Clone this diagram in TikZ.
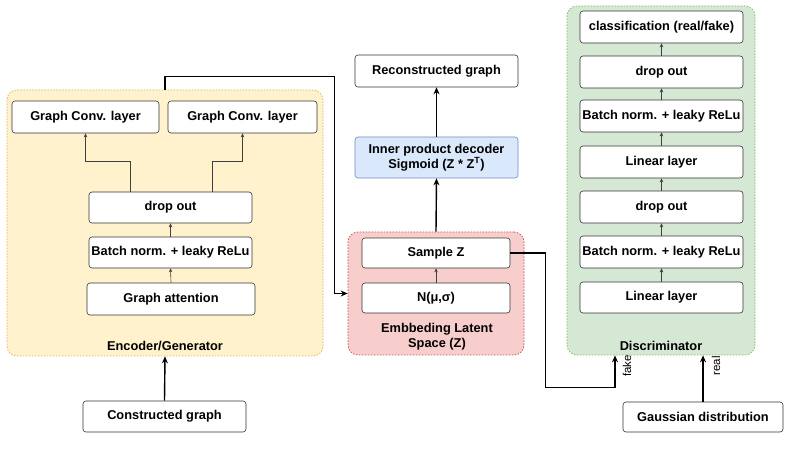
\documentclass[tikz,border=0pt]{standalone}
\usepackage{fontspec}
\setmainfont{Liberation Sans}
\usetikzlibrary{positioning,arrows.meta,calc}

\definecolor{encfill}{HTML}{FFF2CC}
\definecolor{encdraw}{HTML}{D6B656}
\definecolor{embfill}{HTML}{F8CECC}
\definecolor{embdraw}{HTML}{B85450}
\definecolor{discfill}{HTML}{D5E8D4}
\definecolor{discdraw}{HTML}{82B366}
\definecolor{decfill}{HTML}{DAE8FC}
\definecolor{decdraw}{HTML}{6C8EBF}

\begin{document}
\begin{tikzpicture}[
  x=1pt, y=-1pt,
  >=Stealth,
  layer/.style={
    draw=black!80, line width=0.6pt, rounded corners=3pt, fill=white,
    inner sep=1pt, align=center, font=\bfseries\fontsize{12.8}{15}\selectfont
  },
  group/.style={rounded corners=10pt, line width=0.7pt, dash pattern=on 1.5pt off 1.5pt},
  grouplab/.style={align=center, font=\bfseries\fontsize{12.8}{15}\selectfont},
  arr/.style={-{Stealth[length=7pt,width=6pt]}, line width=1.4pt},
  arrthin/.style={-{Stealth[length=4pt,width=3.5pt]}, line width=0.6pt, black!75},
  labsmall/.style={font=\fontsize{11.5}{13}\selectfont}
]
\useasboundingbox (0,0) rectangle (790,462);

% --- Conteneurs
\node[group, draw=encdraw, fill=encfill, minimum width=316pt, minimum height=266pt]  (enc)  at (165,223)   {};
\node[group, draw=embdraw, fill=embfill, minimum width=176pt, minimum height=123pt]  (emb)  at (436,293.5) {};
\node[group, draw=discdraw, fill=discfill, minimum width=188pt, minimum height=349pt] (disc) at (661,180.5) {};

\node[grouplab] (enclab)  at (165,346) {Encoder/Generator};
\node[grouplab] (emblab)  at (437,337) {Embbeding Latent\\Space (Z)};
\node[grouplab] (disclab) at (661,346) {Discriminator};

% --- Encoder/Generator
\node[layer, minimum width=147pt, minimum height=32pt] (gc1)   at (85.5,117)  {Graph Conv. layer};
\node[layer, minimum width=149pt, minimum height=32pt] (gc2)   at (242.5,117) {Graph Conv. layer};
\node[layer, minimum width=163pt, minimum height=31pt] (drop)  at (170.5,207.5) {drop out};
\node[layer, minimum width=163pt, minimum height=31pt] (batch) at (170.5,252.5) {Batch norm. + leaky ReLu};
\node[layer, minimum width=168pt, minimum height=32pt] (attn)  at (171,299)   {Graph attention};

\node[layer, minimum width=163pt, minimum height=31pt] (constr) at (164.5,416.5) {Constructed graph};

% --- Espace latent et decodeur
\node[layer, minimum width=148pt, minimum height=30pt] (sample) at (436,253) {Sample Z};
\node[layer, minimum width=148pt, minimum height=30pt] (norm)   at (436,298) {N(μ,σ)};
\node[layer, fill=decfill, draw=decdraw, minimum width=163pt, minimum height=41pt] (dec) at (436.5,157.5)
  {Inner product decoder\\Sigmoid (Z * Z\textsuperscript{T})};
\node[layer, minimum width=163pt, minimum height=32pt] (recon) at (436.5,71) {Reconstructed graph};

% --- Discriminator
\node[layer, minimum width=163pt, minimum height=32pt] (dcls)   at (661.5,27)    {classification (real/fake)};
\node[layer, minimum width=163pt, minimum height=32pt] (ddrop2) at (661.5,72)    {drop out};
\node[layer, minimum width=163pt, minimum height=32pt] (dbn2)   at (661.5,116)   {Batch norm. + leaky ReLu};
\node[layer, minimum width=163pt, minimum height=32pt] (dlin2)  at (661.5,162)   {Linear layer};
\node[layer, minimum width=163pt, minimum height=32pt] (ddrop1) at (661.5,207)   {drop out};
\node[layer, minimum width=163pt, minimum height=32pt] (dbn1)   at (661.5,252)   {Batch norm. + leaky ReLu};
\node[layer, minimum width=163pt, minimum height=31pt] (dlin1)  at (661.5,297.5) {Linear layer};

\node[layer, minimum width=160pt, minimum height=30pt] (gauss) at (703,417) {Gaussian distribution};

% --- Fleches internes
\draw[arrthin] (attn.north) -- (batch.south);
\draw[arrthin] (batch.north) -- (drop.south);
\draw[arrthin] ($(drop.north)+(-40.5,0)$) -- ++(0,-30) -| (gc1.south);
\draw[arrthin] ($(drop.north)+(41.5,0)$) -- ++(0,-30) -| (gc2.south);
\draw[arrthin] (norm.north) -- (sample.south);
\foreach \a/\b in {dlin1/dbn1, dbn1/ddrop1, ddrop1/dlin2, dlin2/dbn2, dbn2/ddrop2, ddrop2/dcls}
  \draw[arrthin] (\a.north) -- (\b.south);

% --- Fleches principales
\draw[arr] (constr.north) -- (enc.south);
\draw[arr] (enc.north) -- ++(0,-13) -| ($(emb.west)+(-13,0)$) -- (emb.west);
\draw[arr] (emb.north) -- (dec.south);
\draw[arr] (dec.north) -- (recon.south);

% --- fake / real
\draw[arr] (sample.east) -- ++(35,0) |- ($(disc.south)+(-46,32)$) -- ($(disc.south)+(-46,0)$);
\node[labsmall, rotate=90] (fakelab) at (627,366) {fake};
\draw[arr] (gauss.north) -- (gauss.north |- disc.south);
\node[labsmall, rotate=90] (reallab) at (716,366) {real};

\end{tikzpicture}
\end{document}
